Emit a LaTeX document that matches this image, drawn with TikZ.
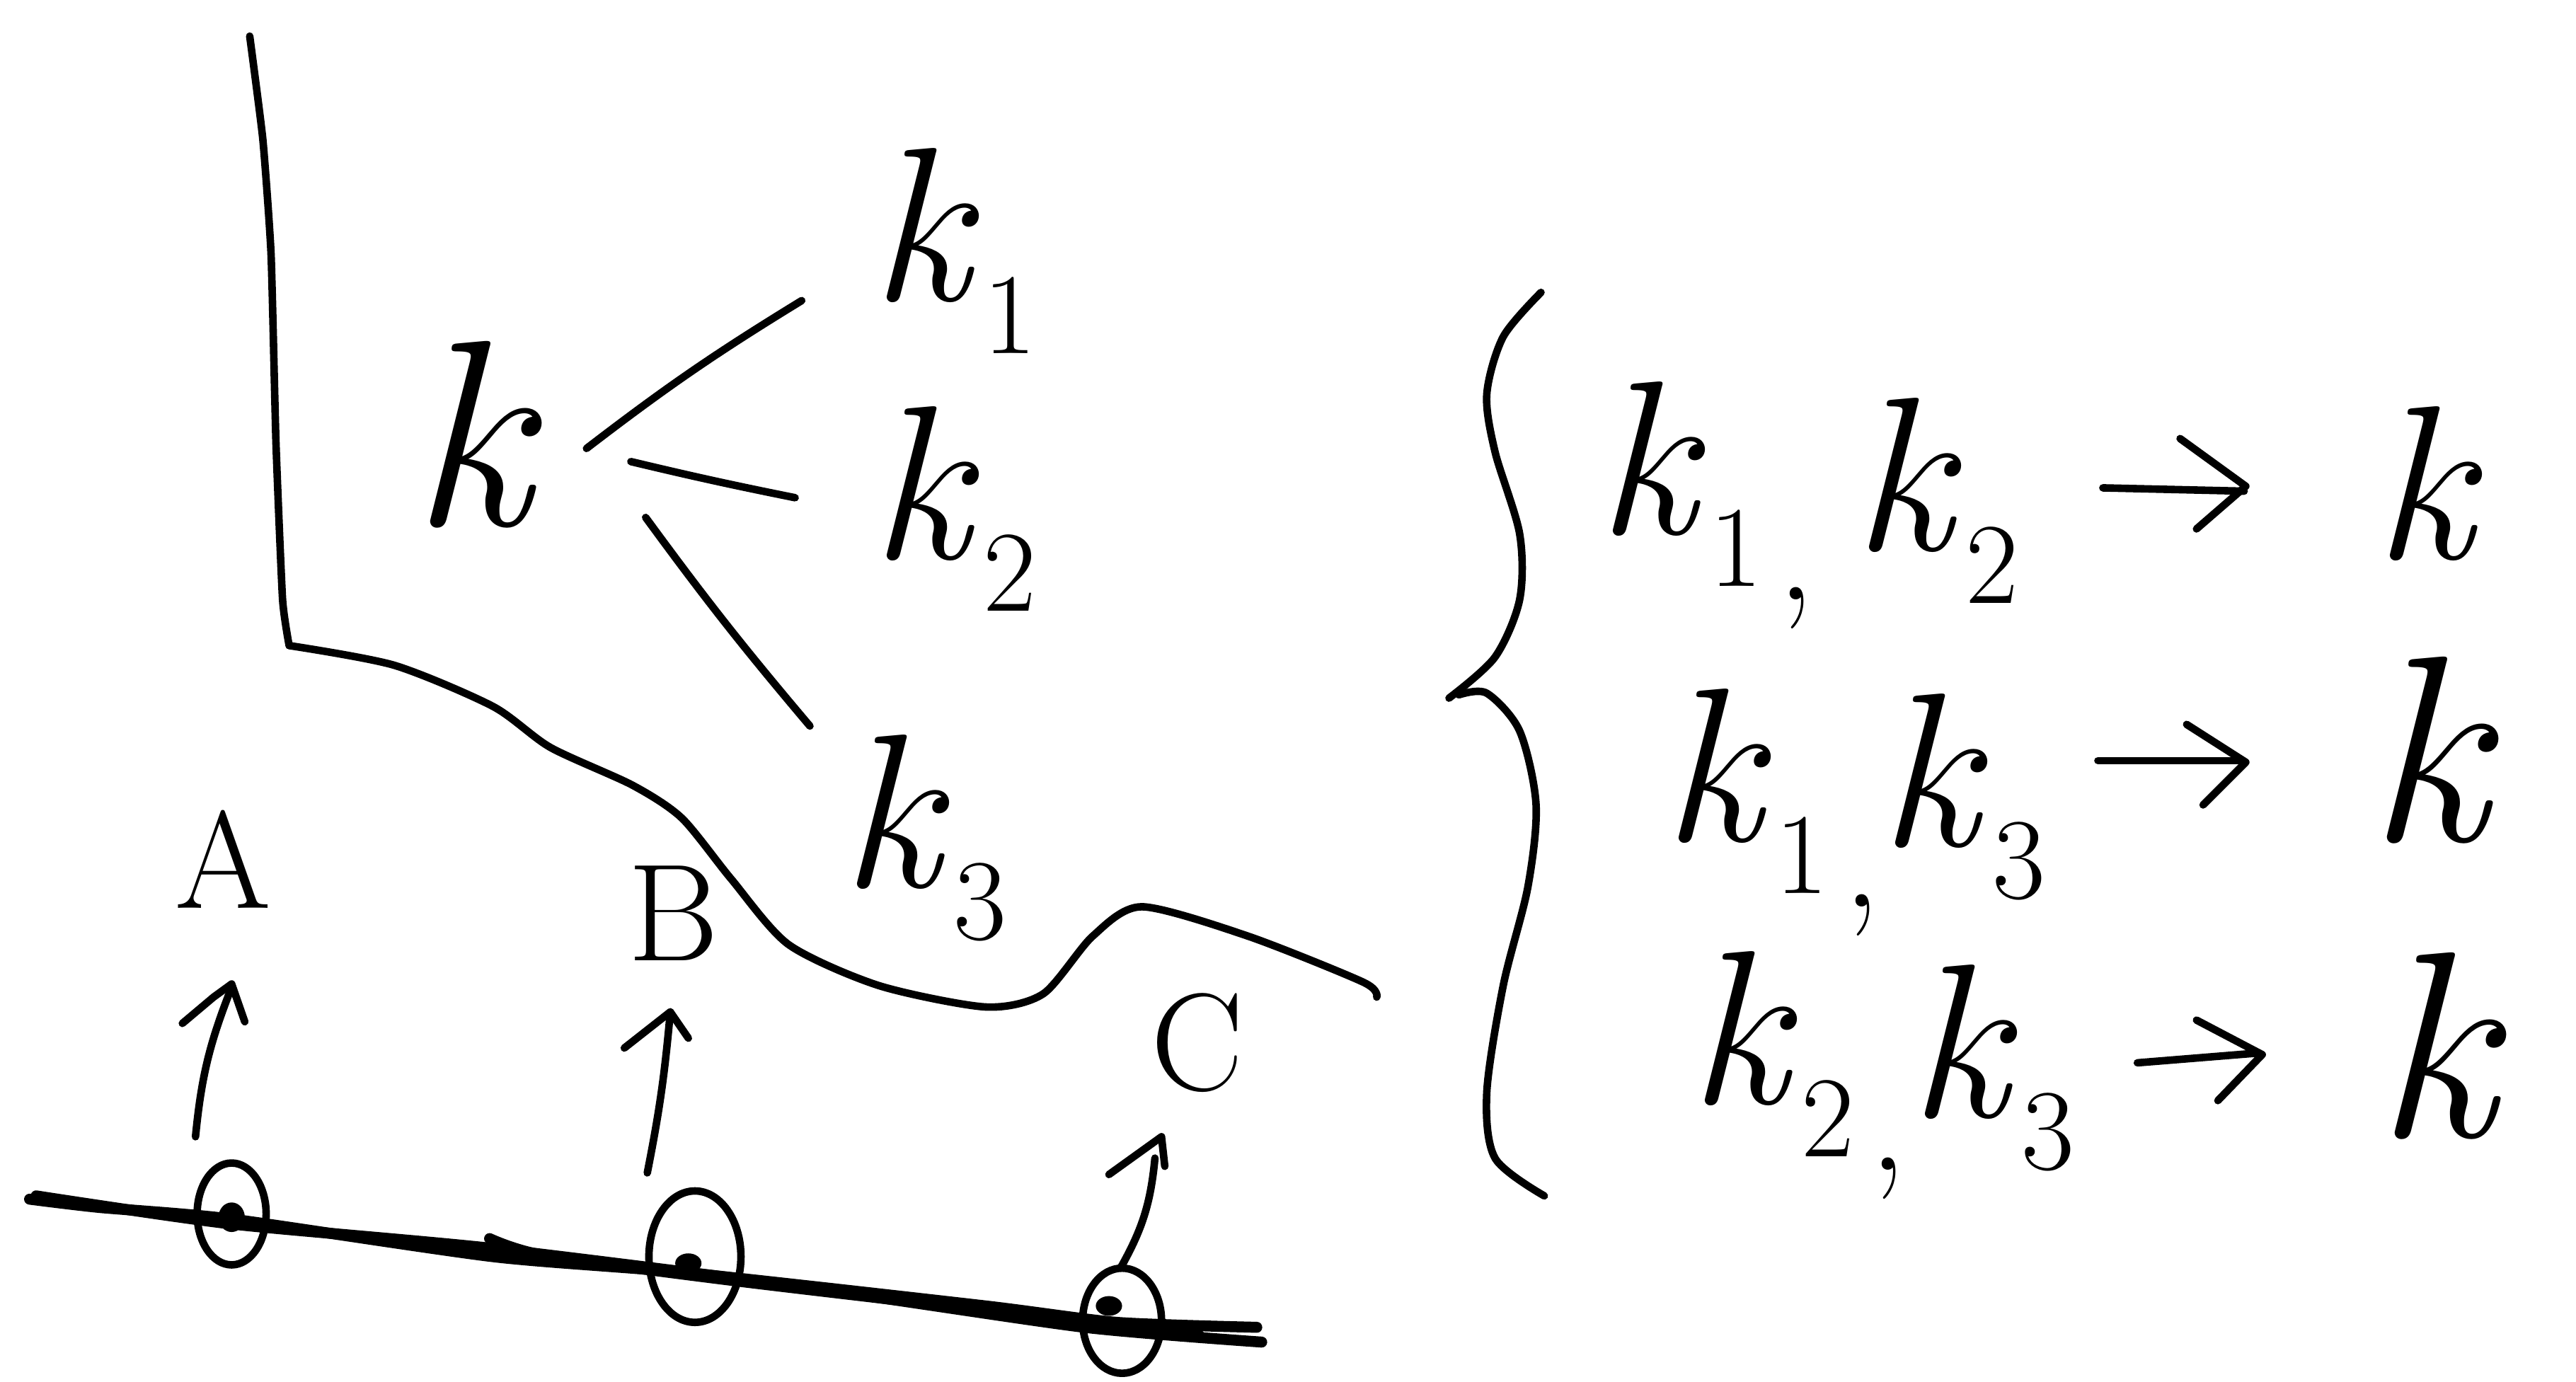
\documentclass[tikz,border=0pt]{standalone}
\newcommand{\kk}[1]{\textit{k}\kern.02em\raisebox{-.24em}{\fontsize{20}{20}\selectfont #1}}
\newcommand{\cm}{\raisebox{-.3em}{\fontsize{26}{26}\selectfont\kern.1em,}}
\begin{document}
\begin{tikzpicture}[x=0.1mm,y=-0.1mm,
  ink/.style={line width=1.3pt,line cap=round,line join=round,black},
  heavyink/.style={line width=1.9pt,line cap=round,line join=round,black},
  kay/.style={anchor=base west,inner sep=0pt,outer sep=0pt,font=\fontsize{38}{38}\selectfont},
  big kay/.style={kay,font=\fontsize{46}{46}\selectfont},
  cap letter/.style={inner sep=0pt,font=\fontsize{24}{24}\selectfont},
]
\useasboundingbox (0,0) rectangle (1568,841.2);
\fill[white] (0,0) rectangle (1568,841.2);
% region boundary
\draw[ink] plot[smooth,tension=.3] coordinates {(152,22) (160,85) (165,155) (168,270) (172,365) (176,393)};
\draw[ink] plot[smooth,tension=.45] coordinates {(176,393) (240,405) (300,430) (335,455) (385,478) (415,498) (445,535) (480,575) (535,600) (600,613) (635,605) (665,570) (695,552) (760,570) (830,598) (838,607)};
% k and its splits
\node[big kay] (k) at (250,320) {\textit{k}};
\node[kay] (k1) at (530,183) {\kk{1}};
\node[kay] (k2) at (530,340) {\kk{2}};
\node[kay] (k3) at (512,540) {\kk{3}};
\coordinate (s1a) at (357,273); \coordinate (s1b) at (488,183);
\coordinate (s2a) at (384,281); \coordinate (s2b) at (484,303);
\coordinate (s3a) at (393,315); \coordinate (s3b) at (493,442);
\draw[ink] (s1a) to[bend left=3] (s1b);
\draw[ink] (s2a) to[bend right=1] (s2b);
\draw[ink] (s3a) to[bend right=2] (s3b);
% labels
\node[cap letter] (A) at (136,523) {A};
\node[cap letter] (B) at (410,556) {B};
\node[cap letter] (C) at (729,635) {C};
% line through points
\draw[heavyink] plot[smooth,tension=.4] coordinates {(18,730) (60,735) (140,742) (300,765) (420,775) (600,795) (680,805) (765,808)};
\draw[heavyink] plot[smooth,tension=.4] coordinates {(22,728) (140,745) (300,760) (500,785) (660,808) (768,817)};
\draw[heavyink] plot[smooth,tension=.4] coordinates {(298,754) (330,764) (450,780) (620,800) (730,813)};
% point rings and dots
\draw[ink] (141,739) ellipse [x radius=21,y radius=31];
\draw[ink] (423,765) ellipse [x radius=28,y radius=40];
\draw[ink] (683,804) ellipse [x radius=24,y radius=32];
\fill (141,741) ellipse [x radius=8,y radius=9];
\fill (419,769) ellipse [x radius=8,y radius=6];
\fill (675,795) ellipse [x radius=8,y radius=6];
% arrows
\coordinate (a0) at (119,692); \coordinate (a1) at (141,601);
\coordinate (b0) at (394,714); \coordinate (b1) at (408,616);
\coordinate (c0) at (682,772); \coordinate (c1) at (703,705);
\draw[ink] (a0) to[bend left=8] (a1);
\draw[ink] (b0) to[bend right=3] (b1);
\draw[ink] (c0) to[bend right=12] (c1);
\draw[ink] (111,623) -- (130,607) -- (141,599) -- (149,622);
\draw[ink] (380,638) -- (408,616) -- (419,632);
\draw[ink] (675,715) -- (707,692) -- (709,710);
% big brace
\draw[ink] plot[smooth,tension=.5] coordinates {(938,178) (915,205) (905,240) (910,275) (925,325) (925,365) (910,400) (882,425)};
\draw[ink] plot[smooth,tension=.5] coordinates {(888,423) (905,422) (925,445) (935,490) (930,540) (915,600) (905,665) (910,705) (940,728)};
% rows
\node[kay] (r1a) at (972,325) {\kk{1}\cm};
\node[kay] (r1b) at (1128,335) {\kk{2}};
\node[kay] (r1c) at (1445,340) {\textit{k}};
\node[kay] (r2a) at (1012,512) {\kk{1}\cm};
\node[kay] (r2b) at (1144,515) {\kk{3}};
\node[big kay] (r2c) at (1441,512) {\textit{k}};
\node[kay] (r3a) at (1028,672) {\kk{2}\cm};
\node[kay] (r3b) at (1162,680) {\kk{3}};
\node[big kay] (r3c) at (1446,692) {\textit{k}};
% implication arrows
\coordinate (i1a) at (1280,297); \coordinate (i1b) at (1366,299);
\coordinate (i2a) at (1277,463); \coordinate (i2b) at (1365,463);
\coordinate (i3a) at (1301,647); \coordinate (i3b) at (1375,641);
\draw[ink] (i1a) -- (i1b);
\draw[ink] (i2a) -- (i2b);
\draw[ink] (i3a) -- (i3b);
\draw[ink] (1327,267) -- (1367,296) -- (1337,322);
\draw[ink] (1331,441) -- (1367,464) -- (1341,490);
\draw[ink] (1337,621) -- (1377,642) -- (1350,670);
\end{tikzpicture}
\end{document}
